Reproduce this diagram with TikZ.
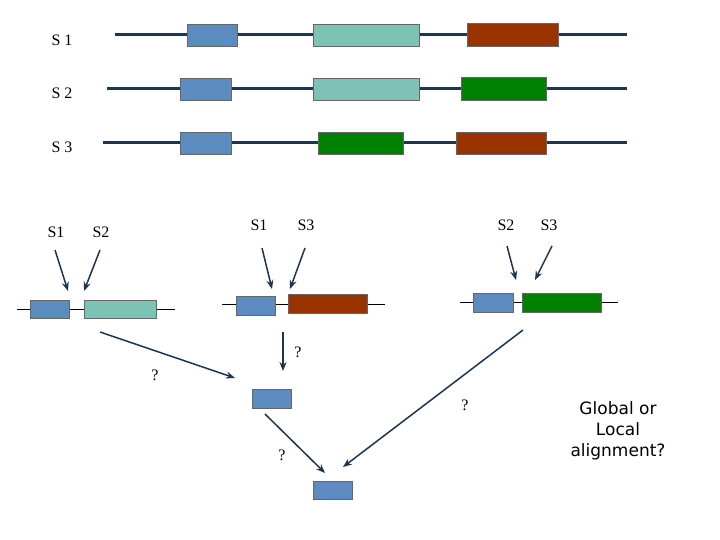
\documentclass[tikz,border=0pt]{standalone}
\usepackage{fontspec}
\usetikzlibrary{arrows.meta}
\setmainfont{Liberation Serif}
\newfontfamily\dv{DejaVu Sans}
\definecolor{cb}{HTML}{5B8BBF}
\definecolor{ct}{HTML}{7DC2B5}
\definecolor{cr}{HTML}{993300}
\definecolor{cg}{HTML}{008000}
\definecolor{cn}{HTML}{1C3550}
\begin{document}
\begin{tikzpicture}[x=1pt,y=-1pt,
 box/.style={draw=black!60,line width=0.6pt},
 seq/.style={cn,line width=3pt},
 thin/.style={black,line width=0.6pt},
 arr/.style={cn,line width=1.5pt,-{Stealth[length=9pt,width=7pt]}},
 lab/.style={font=\fontsize{16}{18}\selectfont},
 q/.style={font=\fontsize{16}{18}\selectfont}]
\useasboundingbox (0,0) rectangle (720,540);
% top rows
\node[lab] (l1) at (62,40) {S 1};
\node[lab] (l2) at (62,93) {S 2};
\node[lab] (l3) at (62,147) {S 3};
\draw[seq] (115,35) -- (627,35);
\draw[seq] (107,89) -- (627,89);
\draw[seq] (103,143) -- (627,143);
\filldraw[box,fill=cb] (187,24) rectangle (237,46);
\filldraw[box,fill=ct] (313,24) rectangle (419,46);
\filldraw[box,fill=cr] (467,23) rectangle (558,46);
\filldraw[box,fill=cb] (180,78) rectangle (231,100);
\filldraw[box,fill=ct] (313,78) rectangle (419,100);
\filldraw[box,fill=cg] (461,77) rectangle (546,100);
\filldraw[box,fill=cb] (180,132) rectangle (231,154);
\filldraw[box,fill=cg] (318,132) rectangle (403,154);
\filldraw[box,fill=cr] (456,132) rectangle (546,154);
% bottom labels
\node[lab] (a1) at (56,232) {S1};
\node[lab] (a2) at (101,232) {S2};
\node[lab] (b1) at (259,225) {S1};
\node[lab] (b2) at (306,225) {S3};
\node[lab] (c1) at (506,225) {S2};
\node[lab] (c2) at (549,225) {S3};
% groups
\draw[thin] (17,309) -- (175,309);
\filldraw[box,fill=cb] (30,300) rectangle (69,318);
\filldraw[box,fill=ct] (84,300) rectangle (156,318);
\draw[thin] (222,304) -- (385,304);
\filldraw[box,fill=cb] (236,296) rectangle (275,315);
\filldraw[box,fill=cr] (288,294) rectangle (367,313);
\draw[thin] (460,302) -- (618,302);
\filldraw[box,fill=cb] (473,293) rectangle (513,312);
\filldraw[box,fill=cg] (522,293) rectangle (601,312);
\node[draw=black!60,fill=cb,minimum width=39pt,minimum height=19pt,inner sep=0] (m) at (271.5,398.5) {};
\node[draw=black!60,fill=cb,minimum width=39pt,minimum height=18pt,inner sep=0] (f) at (332.5,490) {};
% arrows
\draw[arr] (55,250) -- (68,291);
\draw[arr] (100,250) -- (84,291);
\draw[arr] (262,248) -- (272,289);
\draw[arr] (305,248) -- (290,289);
\draw[arr] (507,246) -- (516,280);
\draw[arr] (552,246) -- (535,280);
\draw[arr] (100,332) -- (235,378);
\draw[arr] (283,332) -- (283,371);
\draw[arr] (523,330) -- (343,467);
\draw[arr] (265,414) -- (325,473);
\node[q] (q1) at (155,375) {?};
\node[q] (q2) at (298,352) {?};
\node[q] (q3) at (465,405) {?};
\node[q] (q4) at (282,455) {?};
\node[font=\dv\fontsize{17}{21}\selectfont,align=center] (g) at (618,431) {Global or\\Local\\alignment?};
\end{tikzpicture}
\end{document}
